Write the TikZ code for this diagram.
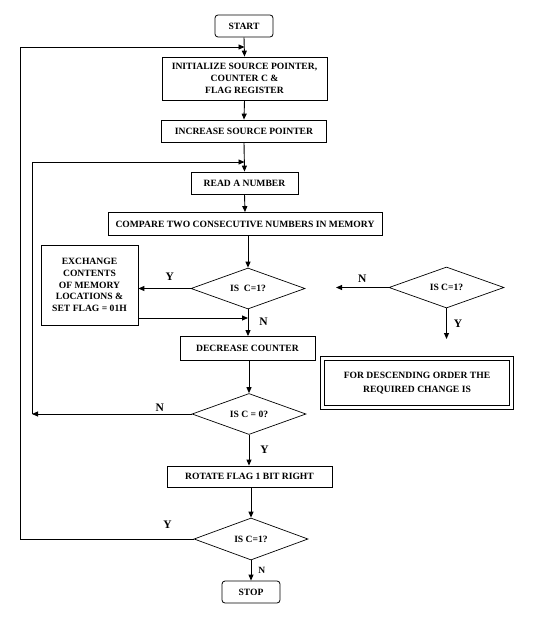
\documentclass[tikz,border=0pt]{standalone}
\usepackage{fontspec}
\setmainfont{Liberation Serif}
\usetikzlibrary{shapes.geometric,arrows.meta}
\begin{document}
\begin{tikzpicture}[x=1pt,y=-1pt,
  every node/.style={font=\fontsize{9.6}{12}\selectfont\bfseries, inner sep=1pt},
  box/.style={draw, line width=0.8pt, align=center},
  term/.style={draw, line width=0.8pt, rounded corners=3pt, align=center},
  dec/.style={draw, line width=0.7pt, diamond, aspect=2.8, inner sep=0pt},
  arr/.style={line width=0.9pt, -{Triangle[length=6pt,width=5pt]}},
  ln/.style={line width=0.9pt},
  lab/.style={font=\fontsize{11.5}{12}\selectfont\bfseries}]
\useasboundingbox (0,0) rectangle (543,618);
\node[term, minimum width=58pt, minimum height=22pt] (start) at (244,26) {START};
\node[box, minimum width=165pt, minimum height=43pt, inner sep=0pt] (init) at (244.5,78.5) {INITIALIZE SOURCE POINTER,\\COUNTER C \&\\FLAG REGISTER};
\node[box, minimum width=165pt, minimum height=22pt] (inc) at (244,131) {INCREASE SOURCE POINTER};
\node[box, minimum width=107pt, minimum height=22pt] (read) at (244.5,183) {READ A NUMBER};
\node[box, minimum width=274pt, minimum height=23pt] (cmp) at (245,224) {COMPARE TWO CONSECUTIVE NUMBERS IN MEMORY};
\node[dec, minimum width=114pt, minimum height=41pt] (d1) at (248,288.5) {IS\ \ C=1?};
\node[box, minimum width=97pt, minimum height=80pt, inner sep=0pt, font=\fontsize{9.6}{11.7}\selectfont\bfseries] (exch) at (89.5,285) {EXCHANGE\\CONTENTS\\OF MEMORY\\LOCATIONS \&\\SET FLAG = 01H};
\node[box, minimum width=135pt, minimum height=24pt] (decr) at (247.5,348.5) {DECREASE COUNTER};
\node[dec, minimum width=114pt, minimum height=41pt] (d2) at (249,414) {IS C = 0?};
\node[box, minimum width=165pt, minimum height=21pt] (rot) at (249.5,476.5) {ROTATE FLAG 1 BIT RIGHT};
\node[dec, minimum width=114pt, minimum height=42pt] (d3) at (251,539) {IS C=1?};
\node[term, minimum width=58pt, minimum height=22pt] (stop) at (251,592) {STOP};
% right side
\node[dec, minimum width=115pt, minimum height=41pt] (d4) at (446.5,287.5) {IS C=1?};
\node[box, double, double distance=3pt, line width=0.7pt, minimum width=189pt, minimum height=49pt, font=\fontsize{9.6}{14}\selectfont\bfseries] (note) at (417,383) {FOR DESCENDING ORDER THE\\REQUIRED CHANGE IS};
\coordinate (top) at (20,47);
\coordinate (inner) at (32,162);
\coordinate (ex1) at (138,318);
\coordinate (n4) at (336,287.5);
\coordinate (y4) at (446.5,339);
% connectors
\draw[arr] (start.south) -- (init.north);
\draw[arr] (init.south) -- (inc.north);
\draw[arr] (inc.south) -- (read.north);
\draw[arr] (read.south) -- (cmp.north);
\draw[arr] (cmp.south -| d1.north) -- (d1.north);
\draw[arr] (d1.west) -- (exch.east |- d1.west) node[lab, pos=0.4, above=7pt] {Y};
\draw[arr] (exch.east |- ex1) -- (d1.south |- ex1);
\draw[arr] (d1.south) -- (d1.south |- decr.north) node[lab, pos=0.45, right=10pt] {N};
\draw[arr] (decr.south -| d2.north) -- (d2.north);
\draw[arr] (d2.west) -- (inner |- d2.west) node[lab, pos=0.2, above=1pt] {N};
\draw[ln] (inner |- d2.west) -- (inner);
\draw[arr] (inner) -- (read.north |- inner);
\draw[arr] (d2.south) -- (d2.south |- rot.north) node[lab, midway, right=10pt] {Y};
\draw[arr] (rot.south -| d3.north) -- (d3.north);
\draw[ln] (d3.west) -- (top |- d3.west) node[lab, pos=0.15, above=9pt] {Y};
\draw[ln] (top |- d3.west) -- (top);
\draw[arr] (top) -- (init.north |- top);
\draw[arr] (d3.south) -- (stop.north) node[lab, font=\fontsize{9.5}{10}\selectfont\bfseries, midway, right=6pt] {N};
\draw[arr] (d4.west) -- (n4) node[lab, midway, above=4pt] {N};
\draw[arr] (d4.south) -- (y4) node[lab, midway, right=6pt] {Y};
\end{tikzpicture}
\end{document}
